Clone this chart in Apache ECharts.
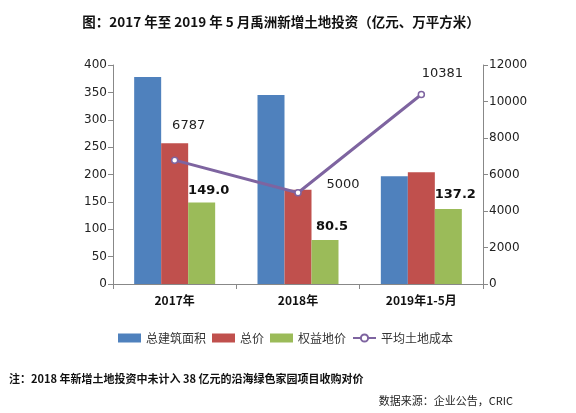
<!DOCTYPE html>
<html><head><meta charset="utf-8">
<script src="https://cdn.jsdelivr.net/npm/echarts@6/dist/echarts.min.js"></script>
<style>html,body{margin:0;padding:0;background:#fff}#c{width:576px;height:413px}</style>
</head><body><div id="c"></div>
<script>
const categories = ['2017年', '2018年', '2019年1-5月'];
const totalArea = [378, 345, 197];
const totalPrice = [257, 172, 204];
const equityPrice = [149.0, 80.5, 137.2];
const avgCost = [6787, 5000, 10381];
const leftTicks = [0, 400, 50];
const rightTicks = [0, 12000, 2000];
const lineLabelOffsets = [[14, -19], [45, 7], [21, -6]];
const barLabelOffsets = [[7, 0], [7, -2], [7, -3]];

const font = "'Noto Sans CJK SC', sans-serif";
const numFont = "'DejaVu Sans', 'Noto Sans CJK SC', sans-serif";
const chart = echarts.init(document.getElementById('c'));
chart.setOption({
  backgroundColor: '#fff',
  animation: false,
  title: [
    {text: '图：2017 年至 2019 年 5 月禹洲新增土地投资（亿元、万平方米）', left: 276, textAlign: 'center', top: 10,
     textStyle: {fontFamily: font, fontSize: 13.5, fontWeight: 'bold', color: '#111'}},
    {text: '注：2018 年新增土地投资中未计入 38 亿元的沿海绿色家园项目收购对价', left: 4, top: 368,
     textStyle: {fontFamily: font, fontSize: 11, fontWeight: 'bold', color: '#111'}},
    {text: '数据来源：企业公告，CRIC', right: 58, top: 390,
     textStyle: {fontFamily: font, fontSize: 11, fontWeight: 'normal', color: '#222'}}
  ],
  legend: {
    left: 113, top: 327, itemWidth: 23, itemHeight: 9, itemGap: 6,
    textStyle: {fontFamily: font, fontSize: 12, color: '#333'},
    data: [
      {name: '总建筑面积', icon: 'rect'},
      {name: '总价', icon: 'rect'},
      {name: '权益地价', icon: 'rect'},
      {name: '平均土地成本'}
    ]
  },
  grid: {left: 113, right: 93, top: 65, bottom: 129},
  xAxis: {
    type: 'category', data: categories,
    axisLine: {lineStyle: {color: '#888'}},
    axisTick: {show: true, alignWithLabel: false, lineStyle: {color: '#888'}, length: 5},
    axisLabel: {fontFamily: font, fontSize: 12, fontWeight: 'bold', color: '#111', margin: 10}
  },
  yAxis: [
    {type: 'value', min: leftTicks[0], max: leftTicks[1], interval: leftTicks[2],
     splitLine: {show: false},
     axisLine: {show: true, lineStyle: {color: '#888'}},
     axisTick: {show: true, lineStyle: {color: '#888'}},
     axisLabel: {fontFamily: numFont, fontSize: 12, color: '#222', margin: 6}},
    {type: 'value', min: rightTicks[0], max: rightTicks[1], interval: rightTicks[2],
     splitLine: {show: false},
     axisLine: {show: true, lineStyle: {color: '#888'}},
     axisTick: {show: true, lineStyle: {color: '#888'}},
     axisLabel: {fontFamily: numFont, fontSize: 12, color: '#222', margin: 6,
       formatter: v => String(v)}}
  ],
  series: [
    {name: '总建筑面积', type: 'bar', data: totalArea, barWidth: 27, barGap: '0%',
     itemStyle: {color: '#4F81BD'}},
    {name: '总价', type: 'bar', data: totalPrice, barWidth: 27, barGap: '0%',
     itemStyle: {color: '#C0504D'}},
    {name: '权益地价', type: 'bar', barWidth: 27, barGap: '0%',
     itemStyle: {color: '#9BBB59'},
     data: equityPrice.map((v, i) => ({value: v, label: {offset: barLabelOffsets[i]}})),
     label: {show: true, position: 'top', distance: 5,
       formatter: p => p.value.toFixed(1),
       fontFamily: numFont, fontSize: 13, fontWeight: 'bold', color: '#111'}},
    {name: '平均土地成本', type: 'line', yAxisIndex: 1,
     symbol: 'circle', symbolSize: 6,
     lineStyle: {color: '#7E64A0', width: 3},
     itemStyle: {color: '#fff', borderColor: '#7E64A0', borderWidth: 1.5},
     data: avgCost.map((v, i) => ({value: v, label: {offset: lineLabelOffsets[i]}})),
     label: {show: true, position: 'top', distance: 5,
       fontFamily: numFont, fontSize: 13, color: '#222'}}
  ]
});
</script></body></html>
